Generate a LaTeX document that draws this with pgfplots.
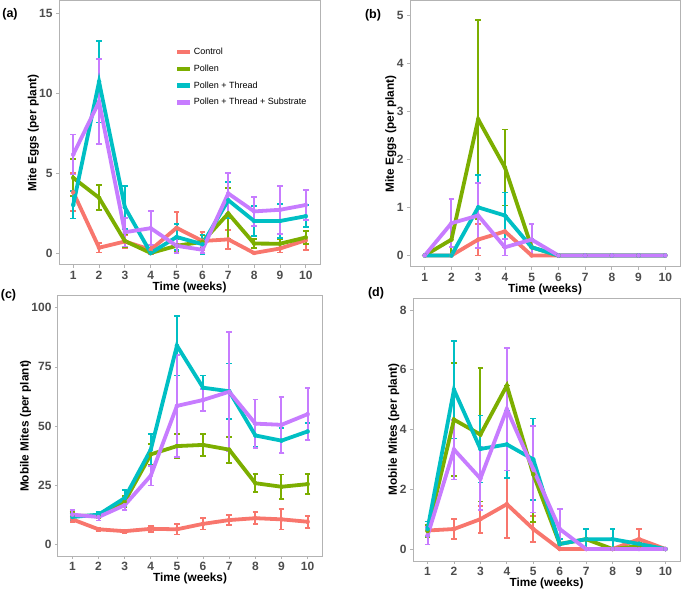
\documentclass[border=0pt]{standalone}
\usepackage{fontspec}
\setmainfont{Liberation Sans}
\usepackage{pgfplots}
\usepackage{pgfplotstable}
\pgfplotsset{compat=1.18}

\definecolor{ctrl}{HTML}{F8766D}
\definecolor{pol}{HTML}{7CAE00}
\definecolor{thr}{HTML}{00BFC4}
\definecolor{sub}{HTML}{C77CFF}
\definecolor{tickgray}{HTML}{4D4D4D}
\definecolor{framegray}{HTML}{B3B3B3}

% columns: week, mean and s.e. for Control, Pollen, Pollen+Thread, Pollen+Thread+Substrate
\pgfplotstableread{
t  c    ce   p    pe   pt   pte  pts  ptse
1  3.8  1.2  4.7  1.15 3.0  0.85 6.15 1.25
2  0.33 0.3  3.45 0.78 10.7 2.55 9.45 2.65
3  0.72 0.4  0.75 0.4  2.85 1.35 1.3  0.9
4  0.2  0.3  0.0  0.0  0.0  0.0  1.55 1.05
5  1.57 1.0  0.45 0.4  1.0  0.8  0.45 0.45
6  0.75 0.55 0.7  0.4  0.55 0.6  0.2  0.2
7  0.85 0.6  2.47 1.6  3.3  1.15 3.72 1.3
8  0.0  0.0  0.59 0.28 2.0  0.95 2.6  0.9
9  0.28 0.25 0.58 0.3  2.0  1.05 2.7  1.5
10 0.8  0.6  0.97 0.42 2.3  0.7  3.0  0.95
}\eggsA

\pgfplotstableread{
t  c    ce   p    pe   pt   pte  pts  ptse
1  0    0    0    0    0    0    0    0
2  0    0    0.33 0.33 0    0    0.67 0.5
3  0.33 0.33 2.83 2.07 1.0  0.67 0.83 0.67
4  0.5  0.33 1.83 0.79 0.83 0.48 0.17 0.17
5  0    0    0.17 0.17 0.17 0.17 0.33 0.33
6  0    0    0    0    0    0    0    0
7  0    0    0    0    0    0    0    0
8  0    0    0    0    0    0    0    0
9  0    0    0    0    0    0    0    0
10 0    0    0    0    0    0    0    0
}\eggsB

\pgfplotstableread{
t  c    ce   p    pe   pt   pte  pts  ptse
1  10.5 1.2  12   1.5  11.5 1.5  12.5 2
2  6.3  0.8  12   1    12.5 1    11.5 1.5
3  5.5  0.7  18   2.5  19.5 3.5  16.5 2
4  6.5  1.2  38   4.5  40   6.7  29   4.2
5  6.3  2.2  41.5 5    84   12.6 58.5 21.5
6  8.6  2.4  42   4.7  66.2 5.2  61   4.5
7  10.2 2    40   5.5  64.7 11.7 64.5 25.2
8  11   2.5  25.8 3.8  46   4.7  51   10.2
9  10.5 4.3  24.3 5.2  43.8 5.3  50.5 11.8
10 9.5  2.5  25.4 4.2  47.7 3.5  55   11
}\mobC

\pgfplotstableread{
t  c    ce   p    pe   pt   pte  pts  ptse
1  0.62 0.17 0.6  0.2  0.67 0.25 0.45 0.3
2  0.67 0.33 4.33 1.89 5.33 1.63 3.33 1.0
3  1.0  0.45 3.83 2.24 3.35 1.12 2.36 1.06
4  1.5  1.13 5.47 0    3.5  1.12 4.68 2.05
5  0.67 0.43 2.5  1.6  3.0  1.37 2.67 1.45
6  0    0    0.17 0.17 0.17 0.17 0.67 0.67
7  0    0    0.33 0.33 0.33 0.33 0    0
8  0    0    0    0    0.33 0.33 0    0
9  0.33 0.33 0.1  0.1  0.17 0.17 0    0
10 0    0    0    0    0    0    0    0
}\mobD

\pgfplotsset{
  panel/.style={
    scale only axis,
    anchor=south west,
    xmin=0.45, xmax=10.55,
    xtick={1,...,10},
    tick pos=left,
    tick align=outside,
    major tick length=3pt,
    every tick/.style={framegray, line width=0.8pt},
    axis line style={framegray, line width=1pt},
    /pgf/number format/assume math mode=true,
    ticklabel style={font=\bfseries\fontsize{12}{12}\selectfont, text=tickgray},
    label style={font=\bfseries\fontsize{11.8}{12}\selectfont},
    xlabel={Time (weeks)},
    xlabel shift=-5pt,
    ylabel shift=-6.5pt,
  },
  ebar/.style={only marks, mark=none, forget plot, color=#1,
    error bars/.cd, y dir=both, y explicit,
    error bar style={line width=2pt, color=#1},
    error mark options={rotate=90, mark size=2.8pt, line width=1.8pt, color=#1}},
  ln/.style={color=#1, line width=3.8pt, mark=none},
}

\begin{document}
\begin{tikzpicture}
\path[use as bounding box] (0,0) rectangle (685pt,589pt);

% (a)
\begin{axis}[panel, at={(59pt,324pt)}, width=261pt, height=264pt,
  ymin=-0.75, ymax=15.75, ytick={0,5,10,15},
  ylabel={Mite Eggs (per plant)},
  legend cell align=left,
  legend image code/.code={\draw[line width=4.5pt] (0pt,0pt) -- (13pt,0pt);},
  legend style={at={(0.443,0.828)}, anchor=north west, draw=none, fill=none,
    font=\fontsize{9}{9}\selectfont, inner sep=0pt, row sep=5.7pt,
    nodes={inner sep=1.5pt}},
]
\addplot[ebar=ctrl] table[x=t, y=c, y error=ce] {\eggsA};
\addplot[ebar=pol] table[x=t, y=p, y error=pe] {\eggsA};
\addplot[ebar=thr] table[x=t, y=pt, y error=pte] {\eggsA};
\addplot[ebar=sub] table[x=t, y=pts, y error=ptse] {\eggsA};
\addplot[ln=ctrl] table[x=t, y=c] {\eggsA};
\addlegendentry{Control}
\addplot[ln=pol] table[x=t, y=p] {\eggsA};
\addlegendentry{Pollen}
\addplot[ln=thr] table[x=t, y=pt] {\eggsA};
\addlegendentry{Pollen + Thread}
\addplot[ln=sub] table[x=t, y=pts] {\eggsA};
\addlegendentry{Pollen + Thread + Substrate}
\end{axis}

% (b)
\begin{axis}[panel, at={(410pt,322pt)}, width=270pt, height=266pt,
  ymin=-0.24, ymax=5.29, ytick={0,1,2,3,4,5},
  ylabel={Mite Eggs (per plant)},
]
\addplot[ebar=ctrl] table[x=t, y=c, y error=ce] {\eggsB};
\addplot[ebar=pol] table[x=t, y=p, y error=pe] {\eggsB};
\addplot[ebar=thr] table[x=t, y=pt, y error=pte] {\eggsB};
\addplot[ebar=sub] table[x=t, y=pts, y error=ptse] {\eggsB};
\addplot[ln=ctrl] table[x=t, y=c] {\eggsB};
\addplot[ln=pol] table[x=t, y=p] {\eggsB};
\addplot[ln=thr] table[x=t, y=pt] {\eggsB};
\addplot[ln=sub] table[x=t, y=pts] {\eggsB};
\end{axis}

% (c)
\begin{axis}[panel, at={(58pt,33pt)}, width=264pt, height=260pt,
  ymin=-5, ymax=105, ytick={0,25,50,75,100},
  ylabel={Mobile Mites (per plant)},
]
\addplot[ebar=ctrl] table[x=t, y=c, y error=ce] {\mobC};
\addplot[ebar=pol] table[x=t, y=p, y error=pe] {\mobC};
\addplot[ebar=thr] table[x=t, y=pt, y error=pte] {\mobC};
\addplot[ebar=sub] table[x=t, y=pts, y error=ptse] {\mobC};
\addplot[ln=ctrl] table[x=t, y=c] {\mobC};
\addplot[ln=pol] table[x=t, y=p] {\mobC};
\addplot[ln=thr] table[x=t, y=pt] {\mobC};
\addplot[ln=sub] table[x=t, y=pts] {\mobC};
\end{axis}

% (d)
\begin{axis}[panel, at={(413pt,28pt)}, width=267pt, height=263pt,
  ymin=-0.4, ymax=8.4, ytick={0,2,4,6,8},
  ylabel={Mobile Mites (per plant)},
]
\addplot[ebar=ctrl] table[x=t, y=c, y error=ce] {\mobD};
\addplot[ebar=pol] table[x=t, y=p, y error=pe] {\mobD};
\addplot[ebar=thr] table[x=t, y=pt, y error=pte] {\mobD};
\addplot[ebar=sub] table[x=t, y=pts, y error=ptse] {\mobD};
\addplot[ln=ctrl] table[x=t, y=c] {\mobD};
\addplot[ln=pol] table[x=t, y=p] {\mobD};
\addplot[ln=thr] table[x=t, y=pt] {\mobD};
\addplot[ln=sub] table[x=t, y=pts] {\mobD};
\end{axis}

\node[font=\bfseries\fontsize{12.5}{12.5}\selectfont] at (10pt,575pt) {(a)};
\node[font=\bfseries\fontsize{12.5}{12.5}\selectfont] at (373pt,574pt) {(b)};
\node[font=\bfseries\fontsize{12.5}{12.5}\selectfont] at (8.5pt,294pt) {(c)};
\node[font=\bfseries\fontsize{12.5}{12.5}\selectfont] at (376pt,295.5pt) {(d)};
\end{tikzpicture}
\end{document}
